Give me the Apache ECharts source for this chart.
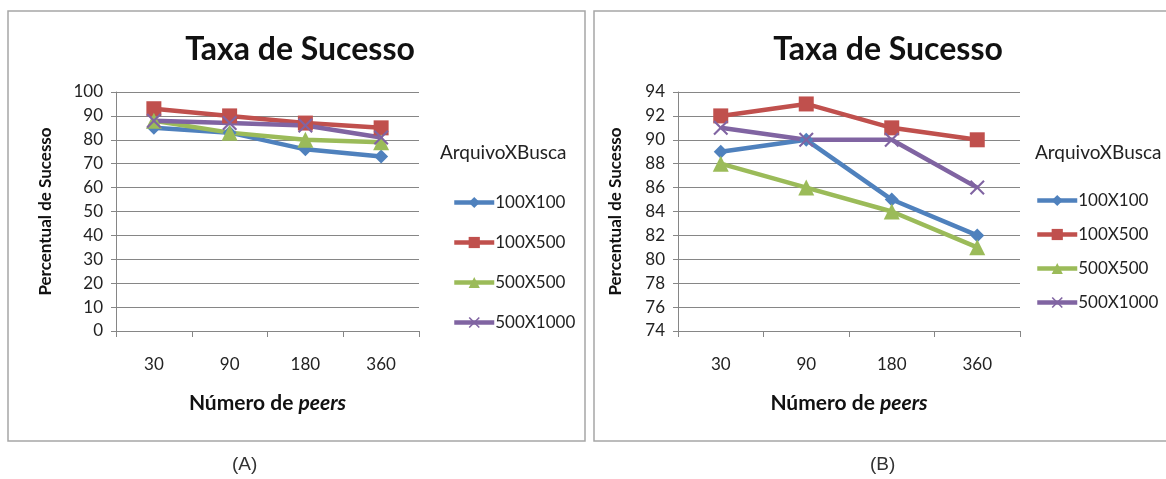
<!DOCTYPE html>
<html><head><meta charset="utf-8">
<script src="https://cdn.jsdelivr.net/npm/echarts@6/dist/echarts.min.js"></script>
<style>html,body{margin:0;padding:0;background:#fff}#c{width:1166px;height:479px}</style>
</head><body><div id="c"></div>
<script>
const categories = ['30', '90', '180', '360'];
const seriesNames = ['100X100', '100X500', '500X500', '500X1000'];
// Chart A
const a100x100 = [85, 83, 76, 73];
const a100x500 = [93, 90, 87, 85];
const a500x500 = [88, 83, 80, 79];
const a500x1000 = [88, 87, 86, 81];
// Chart B
const b100x100 = [89, 90, 85, 82];
const b100x500 = [92, 93, 91, 90];
const b500x500 = [88, 86, 84, 81];
const b500x1000 = [91, 90, 90, 86];

const colors = ['#4F81BD', '#C0504D', '#9BBB59', '#8064A2'];
const xPath = 'path://M1,0L5,4L9,0L10,1L6,5L10,9L9,10L5,6L1,10L0,9L4,5L0,1Z';
const symbols = ['diamond', 'rect', 'triangle', xPath];
const sizes = [14, 15, 16, 15];
const FONT = 'Lato';

function mkSeries(data, i, gi) {
  return {
    name: seriesNames[i], type: 'line', data: data,
    xAxisIndex: gi, yAxisIndex: gi,
    symbol: symbols[i], symbolSize: sizes[i], showAllSymbol: true,
    lineStyle: { width: 4.5, color: colors[i] },
    itemStyle: { color: colors[i] },
    emphasis: { disabled: true }
  };
}

function xAxis(gi) {
  return {
    type: 'category', gridIndex: gi, data: categories, boundaryGap: true,
    axisLine: { lineStyle: { color: '#868686', width: 1 } },
    axisTick: { show: true, length: 6, lineStyle: { color: '#868686' } },
    axisLabel: { color: '#222', fontFamily: FONT, fontSize: 17, margin: 25 },
    name: '{b|Número de }{i|peers}', nameLocation: 'middle', nameGap: 62,
    nameTextStyle: { rich: {
      b: { fontFamily: FONT, fontWeight: 'bold', fontSize: 21, color: '#111' },
      i: { fontFamily: FONT, fontWeight: 'bold', fontStyle: 'italic', fontSize: 21, color: '#111' } } }
  };
}
function yAxis(gi, min, max, interval, gap) {
  return {
    type: 'value', gridIndex: gi, min: min, max: max, interval: interval,
    axisLine: { show: true, lineStyle: { color: '#868686', width: 1 } },
    axisTick: { show: true, length: 5, lineStyle: { color: '#868686' } },
    splitLine: { lineStyle: { color: '#868686', width: 1 } },
    axisLabel: { color: '#222', fontFamily: FONT, fontSize: 17, margin: 13 },
    name: 'Percentual de Sucesso', nameLocation: 'middle', nameGap: gap,
    nameTextStyle: { fontFamily: FONT, fontWeight: 'bold', fontSize: 17, color: '#111' }
  };
}
function legend(left, top, gap) {
  return {
    orient: 'vertical', left: left, top: top, padding: 0,
    itemWidth: 40, itemHeight: 14, itemGap: gap,
    data: seriesNames, selectedMode: false,
    lineStyle: { width: 4.5 },
    textStyle: { fontFamily: FONT, fontSize: 17, color: '#222', padding: [0, 0, 0, -4] }
  };
}

const chart = echarts.init(document.getElementById('c'), null, { renderer: 'canvas' });
chart.setOption({
  backgroundColor: '#fff',
  animation: false,
  title: [
    { text: 'Taxa de Sucesso', left: 295, top: 29, textAlign: 'center',
      textStyle: { fontFamily: FONT, fontWeight: 'bold', fontSize: 32, color: '#111' } },
    { text: 'Taxa de Sucesso', left: 883, top: 29, textAlign: 'center',
      textStyle: { fontFamily: FONT, fontWeight: 'bold', fontSize: 32, color: '#111' } }
  ],
  grid: [
    { left: 116, top: 92, width: 303, height: 239 },
    { left: 678, top: 92, width: 342, height: 239 }
  ],
  xAxis: [xAxis(0), xAxis(1)],
  yAxis: [yAxis(0, 0, 100, 10, 62), yAxis(1, 74, 94, 2, 54)],
  legend: [legend(452, 194, 23), legend(1035, 192, 17)],
  series: [
    mkSeries(a100x100, 0, 0), mkSeries(a100x500, 1, 0), mkSeries(a500x500, 2, 0), mkSeries(a500x1000, 3, 0),
    mkSeries(b100x100, 0, 1), mkSeries(b100x500, 1, 1), mkSeries(b500x500, 2, 1), mkSeries(b500x1000, 3, 1)
  ],
  graphic: [
    { type: 'rect', shape: { x: 8, y: 11, width: 577, height: 430 }, style: { fill: 'none', stroke: '#a6a6a6', lineWidth: 1.5 }, z: -1 },
    { type: 'rect', shape: { x: 594, y: 11, width: 590, height: 430 }, style: { fill: 'none', stroke: '#a6a6a6', lineWidth: 1.5 }, z: -1 },
    { type: 'text', left: 440, top: 143, style: { text: 'ArquivoXBusca', font: '19px Lato', fill: '#222' } },
    { type: 'text', left: 1035, top: 143, style: { text: 'ArquivoXBusca', font: '19px Lato', fill: '#222' } },
    { type: 'text', left: 232, top: 455, style: { text: '(A)', font: '19px "Liberation Sans"', fill: '#333' } },
    { type: 'text', left: 870, top: 455, style: { text: '(B)', font: '19px "Liberation Sans"', fill: '#333' } }
  ]
});
</script></body></html>
